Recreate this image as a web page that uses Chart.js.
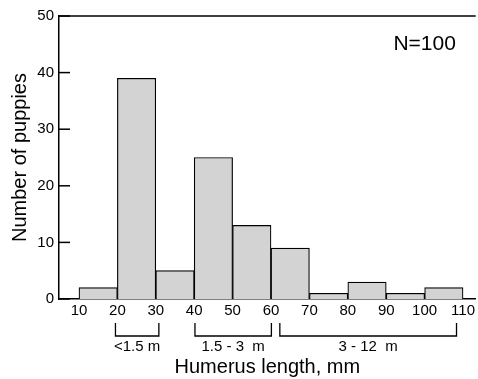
<!DOCTYPE html>
<html>
<head>
<meta charset="utf-8">
<script src="https://cdn.jsdelivr.net/npm/chart.js@4/dist/chart.umd.min.js"></script>
<style>
  html, body { margin: 0; padding: 0; background: #ffffff; }
  #c { display: block; }
</style>
</head>
<body>
<canvas id="c" width="478" height="379"></canvas>
<script>
// ---- data ----
const binStarts = [10, 20, 30, 40, 50, 60, 70, 80, 90, 100];
const binWidth = 10;
const counts = [2, 39, 5, 25, 13, 9, 1, 3, 1, 2];
const xTickValues = [10, 20, 30, 40, 50, 60, 70, 80, 90, 100, 110];
const yTickValues = [0, 10, 20, 30, 40, 50];
const bracketFrom = [19.5, 40.2, 62.3];
const bracketTo = [30.8, 60.1, 108.3];
const bracketLabels = ['<1.5 m', '1.5 - 3  m', '3 - 12  m'];
const noteText = 'N=100';
const notePos = { x: 100, y: 45 };

const FONT = "'Liberation Sans', Arial, Helvetica, sans-serif";

const barData = binStarts.map((s, i) => ({ x: s + binWidth / 2, y: counts[i] }));

const decorPlugin = {
  id: 'decor',
  afterDraw(chart) {
    const ctx = chart.ctx;
    const xs = chart.scales.x, ys = chart.scales.y;
    const ca = chart.chartArea;
    ctx.save();
    ctx.strokeStyle = '#000';
    // top frame line
    ctx.lineWidth = 1.5;
    ctx.beginPath();
    ctx.moveTo(ca.left - 0.75, ca.top);
    ctx.lineTo(ca.right, ca.top);
    ctx.stroke();
    // inward y ticks
    ctx.lineWidth = 1.5;
    yTickValues.forEach(v => {
      const py = ys.getPixelForValue(v);
      ctx.beginPath();
      ctx.moveTo(ca.left, py);
      ctx.lineTo(ca.left + 11, py);
      ctx.stroke();
    });
    // brackets
    ctx.lineWidth = 1.3;
    ctx.fillStyle = '#000';
    ctx.font = '15px ' + FONT;
    ctx.textAlign = 'center';
    ctx.textBaseline = 'middle';
    bracketFrom.forEach((f, i) => {
      const x1 = xs.getPixelForValue(f);
      const x2 = xs.getPixelForValue(bracketTo[i]);
      const top = ca.bottom + 24, bot = ca.bottom + 37;
      ctx.beginPath();
      ctx.moveTo(x1, top);
      ctx.lineTo(x1, bot);
      ctx.lineTo(x2, bot);
      ctx.lineTo(x2, top);
      ctx.stroke();
      ctx.fillText(bracketLabels[i], (x1 + x2) / 2, ca.bottom + 48);
    });
    // N=100
    ctx.font = '21px ' + FONT;
    ctx.fillText(noteText, xs.getPixelForValue(notePos.x), ys.getPixelForValue(notePos.y));
    ctx.restore();
  }
};

new Chart(document.getElementById('c'), {
  type: 'bar',
  data: {
    datasets: [{
      data: barData,
      backgroundColor: '#d3d3d3',
      borderColor: '#000000',
      borderWidth: 1.2,
      barPercentage: 1.0,
      categoryPercentage: 1.0
    }]
  },
  options: {
    responsive: false,
    animation: false,
    layout: { padding: { top: 16, left: 0, right: 0, bottom: 0 } },
    plugins: { legend: { display: false }, tooltip: { enabled: false } },
    scales: {
      x: {
        type: 'linear',
        offset: false,
        min: 4.8,
        max: 113.3,
        grid: { display: false, drawTicks: false, offset: false },
        border: { display: true, color: '#000', width: 1.5 },
        afterBuildTicks(scale) { scale.ticks = xTickValues.map(v => ({ value: v })); },
        afterFit(scale) { scale.height = 80; },
        ticks: {
          color: '#000',
          padding: 3,
          maxRotation: 0,
          autoSkip: false,
          font: { family: FONT, size: 15 },
          callback: v => String(v)
        },
        title: {
          display: true,
          text: 'Humerus length, mm',
          color: '#000',
          font: { family: FONT, size: 20 },
          padding: { top: 0, bottom: 0 }
        }
      },
      y: {
        min: 0,
        max: 50,
        grid: { display: false, drawTicks: false },
        border: { display: true, color: '#000', width: 1.5 },
        afterBuildTicks(scale) { scale.ticks = yTickValues.map(v => ({ value: v })); },
        afterFit(scale) { scale.width = 59; },
        ticks: {
          color: '#000',
          padding: 5,
          font: { family: FONT, size: 15 }
        },
        title: {
          display: true,
          text: 'Number of puppies',
          color: '#000',
          font: { family: FONT, size: 20 },
          padding: { top: 8, bottom: 0 }
        }
      }
    }
  },
  plugins: [decorPlugin]
});
</script>
</body>
</html>
